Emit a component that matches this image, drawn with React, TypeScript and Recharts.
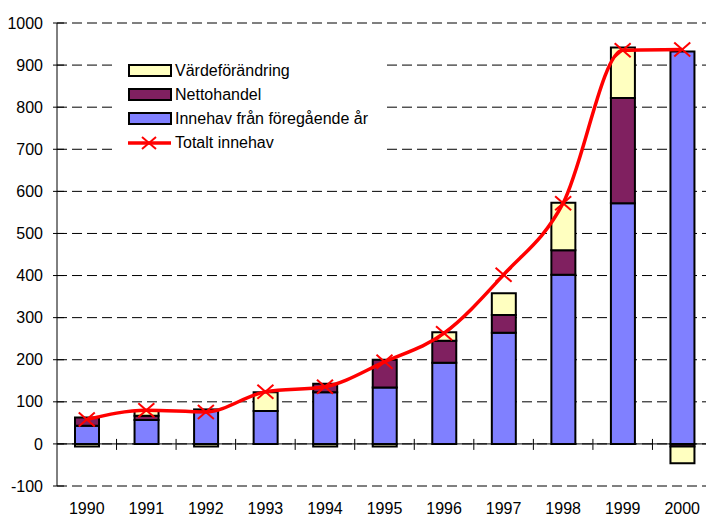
import { ComposedChart, Bar, Line, XAxis, YAxis, CartesianGrid, ReferenceLine } from "recharts";

// Värden (miljarder kr)
const years = ["1990", "1991", "1992", "1993", "1994", "1995", "1996", "1997", "1998", "1999", "2000"];
const innehav = [43, 57, 79, 78, 123, 134, 193, 264, 402, 572, 932];
const nettohandel = [20, 10, 3, 0, 20, 66, 52, 42, 58, 250, -6];
const vardeforandring = [-6, 12, -6, 45, -6, -6, 20, 52, 113, 120, -40];
const totalt = [58, 80, 76, 124, 136, 195, 263, 402, 572, 935, 937];
const yTicks = [-100, 0, 100, 200, 300, 400, 500, 600, 700, 800, 900, 1000];

const data = years.map((year, i) => ({
  year,
  innehav: innehav[i],
  nettohandel: nettohandel[i],
  vardeforandring: vardeforandring[i],
  totalt: totalt[i],
}));

const FONT = "'Liberation Sans', Arial, sans-serif";
const BLUE = "#8080FF";
const PURPLE = "#802060";
const YELLOW = "#FFFFC0";
const RED = "#FF0000";

// Kryssmarkör för linjen
const CrossDot = (props: any) => {
  const { cx, cy } = props;
  if (cx == null || cy == null) return null;
  const w = 8;
  const h = 7;
  return (
    <g>
      <line x1={cx - w} y1={cy - h} x2={cx + w} y2={cy + h} stroke={RED} strokeWidth={2} />
      <line x1={cx - w} y1={cy + h} x2={cx + w} y2={cy - h} stroke={RED} strokeWidth={2} />
    </g>
  );
};

// Y-axelns markeringar korsar axeln
const YTick = (props: any) => {
  const { x, y, payload } = props;
  return (
    <g>
      <line x1={x + 8} x2={x + 19} y1={y} y2={y} stroke="#000" strokeWidth={1} />
      <text x={x - 2} y={y} dy="0.35em" textAnchor="end" fill="#000" fontSize={16} fontFamily={FONT}>
        {payload.value}
      </text>
    </g>
  );
};

// Nollinjen med kategorimarkeringar som korsar den
const ZeroAxis = (props: any) => {
  const { x1, x2, y1 } = props;
  if (x1 == null) return null;
  const step = (x2 - x1) / years.length;
  return (
    <g>
      <line x1={x1} y1={y1} x2={x2} y2={y1} stroke="#000" strokeWidth={1} />
      {years.slice(1).map((_, i) => (
        <line
          key={i}
          x1={x1 + step * (i + 1)}
          x2={x1 + step * (i + 1)}
          y1={y1 - 5}
          y2={y1 + 6}
          stroke="#000"
          strokeWidth={1}
        />
      ))}
    </g>
  );
};

const legendItems = [
  { label: "Värdeförändring", color: YELLOW, type: "bar" },
  { label: "Nettohandel", color: PURPLE, type: "bar" },
  { label: "Innehav från föregående år", color: BLUE, type: "bar" },
  { label: "Totalt innehav", color: RED, type: "line" },
];

// Förklaring i en vit ruta ovanpå diagrammet
const ChartLegend = () => (
  <div
    style={{
      position: "absolute",
      left: 117,
      top: 57,
      width: 268,
      height: 99,
      padding: "2px 0 0 11px",
      boxSizing: "border-box",
      background: "#fff",
      fontFamily: FONT,
      fontSize: 16,
      color: "#000",
    }}
  >
    {legendItems.map((item) => (
      <div key={item.label} style={{ display: "flex", alignItems: "center", height: 24 }}>
        <svg width={44} height={16} style={{ marginRight: 3 }}>
          {item.type === "bar" ? (
            <rect x={1} y={2} width={42} height={11} fill={item.color} stroke="#000" strokeWidth={2} />
          ) : (
            <g>
              <line x1={0} y1={8} x2={43} y2={8} stroke={RED} strokeWidth={3.5} />
              <line x1={14} y1={2} x2={28} y2={14} stroke={RED} strokeWidth={2} />
              <line x1={14} y1={14} x2={28} y2={2} stroke={RED} strokeWidth={2} />
            </g>
          )}
        </svg>
        <span style={{ whiteSpace: "nowrap" }}>{item.label}</span>
      </div>
    ))}
  </div>
);

export default function App() {
  return (
    <div style={{ position: "absolute", left: 0, top: 0, width: 706, height: 515, overflow: "hidden", background: "#fff" }}>
      <ComposedChart
        width={712}
        height={515}
        data={data}
        stackOffset="sign"
        margin={{ top: 23, right: 0, bottom: 0, left: 0 }}
      >
        <CartesianGrid vertical={false} stroke="#000" strokeDasharray="10 5" />
        <XAxis
          dataKey="year"
          height={29}
          axisLine={false}
          tickLine={false}
          tickSize={0}
          tickMargin={17}
          interval={0}
          tick={{ fill: "#000", fontSize: 16, fontFamily: FONT }}
        />
        <YAxis
          width={57}
          domain={[-100, 1000]}
          ticks={yTicks}
          interval={0}
          axisLine={{ stroke: "#000" }}
          tickLine={false}
          tickSize={6}
          tickMargin={6}
          tick={<YTick />}
        />
        <ReferenceLine y={0} shape={ZeroAxis} />
        <Bar dataKey="innehav" stackId="a" fill={BLUE} stroke="#000" strokeWidth={2} barSize={24} isAnimationActive={false} />
        <Bar dataKey="nettohandel" stackId="a" fill={PURPLE} stroke="#000" strokeWidth={2} barSize={24} isAnimationActive={false} />
        <Bar dataKey="vardeforandring" stackId="a" fill={YELLOW} stroke="#000" strokeWidth={2} barSize={24} isAnimationActive={false} />
        <Line
          dataKey="totalt"
          type="monotone"
          stroke={RED}
          strokeWidth={3.5}
          dot={<CrossDot />}
          activeDot={false}
          isAnimationActive={false}
        />
      </ComposedChart>
      <ChartLegend />
    </div>
  );
}
